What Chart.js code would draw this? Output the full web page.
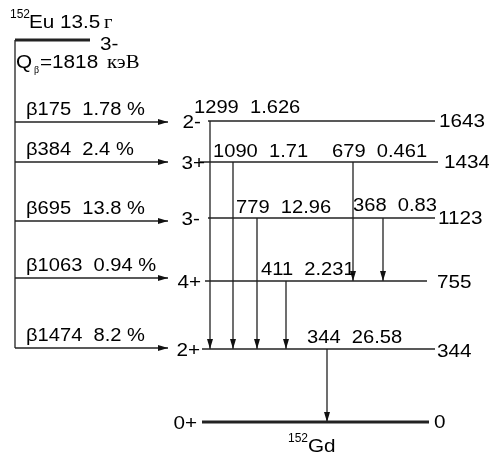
<!DOCTYPE html>
<html>
<head>
<meta charset="utf-8">
<style>
  html, body { margin: 0; padding: 0; background: #fff; }
  canvas { display: block; }
</style>
</head>
<body>
<canvas id="scheme" width="489" height="455"></canvas>
<script src="https://cdn.jsdelivr.net/npm/chart.js@4/dist/chart.umd.min.js"></script>
<script>
// decay data, 152Eu -> 152Gd
const parent_mass = '152';
const parent_name = 'Eu';
const parent_half_life = '13.5';
const half_life_unit = 'г';
const parent_spin = '3-';
const q_beta = 1818;
const energy_unit = 'кэВ';
const daughter_mass = '152';
const daughter_name = 'Gd';

// daughter levels (keV) and spins
const level_energy = [1643, 1434, 1123, 755, 344, 0];
const level_spin = ['2-', '3+', '3-', '4+', '2+', '0+'];

// beta branches: end point energy, intensity %, fed level
const beta_energy = [175, 384, 695, 1063, 1474];
const beta_intensity = ['1.78', '2.4', '13.8', '0.94', '8.2'];
const beta_level = [1643, 1434, 1123, 755, 344];

// gamma transitions: energy, intensity, from level, to level
const gamma_energy = [1299, 1090, 779, 411, 679, 368, 344];
const gamma_intensity = ['1.626', '1.71', '12.96', '2.231', '0.461', '0.83', '26.58'];
const gamma_from = [1643, 1434, 1123, 755, 1434, 1123, 344];
const gamma_to = [344, 344, 344, 344, 755, 755, 0];

// ---- drawing layout (canvas units, y downwards) ----
const level_y = {1643: 121, 1434: 162, 1123: 218, 755: 281, 344: 349, 0: 422};
const level_x0 = {1643: 208, 1434: 200, 1123: 208, 755: 205, 344: 202, 0: 202};
const level_x1 = {1643: 435, 1434: 438, 1123: 435, 755: 427, 344: 435, 0: 429};
const spin_right = {1643: 201, 1434: 205, 1123: 200, 755: 201, 344: 200, 0: 197};
const energy_left = {1643: 439, 1434: 444, 1123: 438, 755: 437, 344: 437, 0: 434};
const energy_dy = {1643: 1, 1434: 1, 1123: 1, 755: 2, 344: 3, 0: 1};
const beta_y = {1643: 122, 1434: 162, 1123: 221, 755: 278, 344: 348};
const gamma_x = {1299: 210, 1090: 233, 779: 257, 411: 286, 679: 353, 368: 383, 344: 327};
const gamma_label = {1299: [194, 113], 1090: [213, 157], 679: [332, 157], 779: [236, 213],
                     368: [353, 211], 411: [261, 275], 344: [307, 343]};
const parent_x = 15, parent_top = 40, parent_right = 90, beta_tip = 168;

const SANS = '"Liberation Sans", Arial, sans-serif';
const SERIF = '"Liberation Serif", "Times New Roman", serif';
const LINE = '#222';
const STRETCH = 1.15;   // the source lettering is a bit wider than Arial
const GAP = '  ';

// arrowhead drawn pointing down, tip at the image centre
function make_arrow(len, half) {
    let c = document.createElement('canvas');
    c.width = half * 2 + 2;
    c.height = len * 2 + 2;
    let g = c.getContext('2d');
    let cx = c.width / 2, cy = c.height / 2;
    g.fillStyle = '#111';
    g.beginPath();
    g.moveTo(cx, cy);
    g.lineTo(cx - half, cy - len);
    g.lineTo(cx + half, cy - len);
    g.closePath();
    g.fill();
    return c;
}
const arrow = make_arrow(10, 3);

function segment(p0, p1, width, head, rotation) {
    return {
        data: [p0, p1],
        showLine: true,
        borderColor: LINE,
        borderWidth: width,
        pointRadius: [0, head ? 5 : 0],
        pointStyle: arrow,
        pointRotation: [0, rotation || 0],
        clip: false
    };
}

let datasets = [];
// parent level and the vertical feeding line
datasets.push(segment({x: parent_x, y: parent_top}, {x: parent_right, y: parent_top}, 3, false));
datasets.push(segment({x: parent_x, y: parent_top}, {x: parent_x, y: beta_y[beta_level[beta_level.length - 1]]}, 1.3, false));
// daughter levels
level_energy.forEach((e) => {
    datasets.push(segment({x: level_x0[e], y: level_y[e]}, {x: level_x1[e], y: level_y[e]}, e === 0 ? 3 : 1.3, false));
});
// beta branches
beta_level.forEach((lv) => {
    datasets.push(segment({x: parent_x, y: beta_y[lv]}, {x: beta_tip, y: beta_y[lv]}, 1.3, true, -90));
});
// gamma transitions
gamma_energy.forEach((g, i) => {
    let x = gamma_x[g];
    datasets.push(segment({x: x, y: level_y[gamma_from[i]]}, {x: x, y: level_y[gamma_to[i]]}, 1.3, true, 0));
});

function put_text(ctx, text, x, y, font, stretch) {
    ctx.save();
    if (font) ctx.font = font;
    ctx.translate(x, y);
    ctx.scale(stretch || STRETCH, 1);
    ctx.fillText(text, 0, 0);
    ctx.restore();
}

const scheme_labels = {
    id: 'scheme_labels',
    afterDatasetsDraw(chart) {
        let ctx = chart.ctx;
        let sx = chart.scales.x, sy = chart.scales.y;
        let px = (v) => sx.getPixelForValue(v);
        let py = (v) => sy.getPixelForValue(v);
        ctx.save();
        ctx.fillStyle = '#000';
        ctx.textBaseline = 'alphabetic';
        ctx.textAlign = 'left';

        // parent: title, spin, Q value
        put_text(ctx, parent_mass, px(10), py(18), '12px ' + SANS, 1);
        put_text(ctx, parent_name + ' ' + parent_half_life, px(29), py(28), '18px ' + SANS);
        put_text(ctx, half_life_unit, px(104), py(28), '18px ' + SERIF);
        put_text(ctx, parent_spin, px(100), py(50), '18px ' + SANS);
        put_text(ctx, 'Q', px(16), py(68), '18px ' + SANS);
        put_text(ctx, 'β', px(34), py(73), '10px ' + SERIF, 1);
        put_text(ctx, '=' + q_beta, px(40), py(68), '18px ' + SANS);
        put_text(ctx, energy_unit, px(107), py(68), '18px ' + SERIF);

        // beta labels
        ctx.font = '17.5px ' + SANS;
        beta_level.forEach((lv, i) => {
            put_text(ctx, 'β' + beta_energy[i] + GAP + beta_intensity[i] + ' %', px(26), py(beta_y[lv] - 7));
        });
        // gamma labels
        gamma_energy.forEach((g, i) => {
            let p = gamma_label[g];
            put_text(ctx, g + GAP + gamma_intensity[i], px(p[0]), py(p[1]));
        });

        // spins and level energies
        ctx.font = '18px ' + SANS;
        ctx.textBaseline = 'middle';
        level_energy.forEach((e, i) => {
            ctx.textAlign = 'right';
            put_text(ctx, level_spin[i], px(spin_right[e]), py(level_y[e] + 2));
            ctx.textAlign = 'left';
            put_text(ctx, String(e), px(energy_left[e]), py(level_y[e] + energy_dy[e]));
        });

        // daughter name
        ctx.textBaseline = 'alphabetic';
        put_text(ctx, daughter_mass, px(288), py(442), '12px ' + SANS, 1);
        put_text(ctx, daughter_name, px(308), py(452), '18px ' + SANS);
        ctx.restore();
    }
};

new Chart(document.getElementById('scheme'), {
    type: 'scatter',
    data: {datasets: datasets},
    options: {
        responsive: false,
        animation: false,
        events: [],
        layout: {padding: 0, autoPadding: false},
        plugins: {legend: {display: false}, tooltip: {enabled: false}},
        scales: {
            x: {type: 'linear', min: 0, max: 489, display: false},
            y: {type: 'linear', min: 0, max: 455, reverse: true, display: false}
        }
    },
    plugins: [scheme_labels]
});
</script>
</body>
</html>
